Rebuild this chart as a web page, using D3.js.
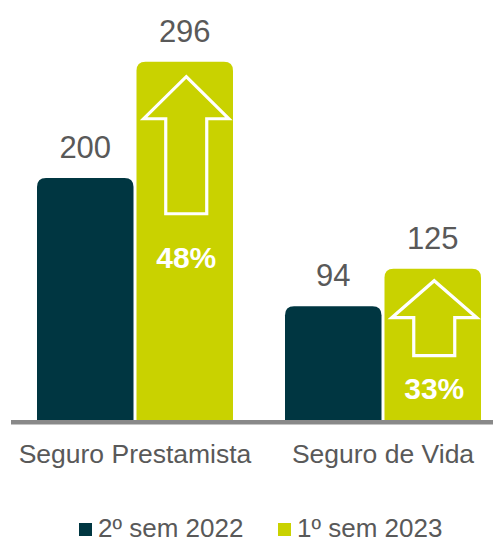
<!DOCTYPE html>
<html>
<head>
<meta charset="utf-8">
<script src="https://cdn.jsdelivr.net/npm/d3@7"></script>
<style>
  body { margin: 0; background: #fff; }
  text { font-family: Arial, "Liberation Sans", sans-serif; }
</style>
</head>
<body>
<div id="chart"></div>
<script>

// chart data
var categories = ["Seguro Prestamista", "Seguro de Vida"];
var seriesNames = ["2º sem 2022", "1º sem 2023"];
var values2022 = [200, 94];
var values2023 = [296, 125];
var growthLabels = ["48%", "33%"];

var colors = ["#003641", "#c9d200"];
var textGray = "#595959";

var width = 493, height = 541;
var baseY = 420;

var svg = d3.select("#chart").append("svg")
    .attr("width", width)
    .attr("height", height);

var x0 = d3.scaleBand()
    .domain(categories)
    .range([11, 507]);

var x1 = d3.scaleBand()
    .domain(seriesNames)
    .range([26, 222])
    .paddingInner(0.03);

var y = d3.scaleLinear()
    .domain([0, 347])
    .range([baseY, 0]);

var data = categories.map(function(c, i) {
  return {
    category: c,
    index: i,
    bars: [
      {series: seriesNames[0], value: values2022[i], color: colors[0]},
      {series: seriesNames[1], value: values2023[i], color: colors[1]}
    ]
  };
});

// bar with rounded top corners
function topRounded(x, yTop, w, h, r) {
  return "M" + x + "," + (yTop + h) +
    " L" + x + "," + (yTop + r) +
    " Q" + x + "," + yTop + " " + (x + r) + "," + yTop +
    " L" + (x + w - r) + "," + yTop +
    " Q" + (x + w) + "," + yTop + " " + (x + w) + "," + (yTop + r) +
    " L" + (x + w) + "," + (yTop + h) + " Z";
}

var groups = svg.selectAll(".group")
  .data(data)
  .enter().append("g")
    .attr("class", "group")
    .attr("transform", function(d) { return "translate(" + x0(d.category) + ",0)"; });

groups.selectAll(".bar")
  .data(function(d) { return d.bars; })
  .enter().append("path")
    .attr("class", "bar")
    .attr("d", function(d) {
      return topRounded(x1(d.series), y(d.value), x1.bandwidth(), baseY - y(d.value), 9);
    })
    .style("fill", function(d) { return d.color; });

groups.selectAll(".value")
  .data(function(d) { return d.bars; })
  .enter().append("text")
    .attr("class", "value")
    .attr("x", function(d) { return x1(d.series) + x1.bandwidth() / 2; })
    .attr("y", function(d) { return y(d.value) - 20; })
    .attr("text-anchor", "middle")
    .style("font-size", "31px")
    .style("fill", textGray)
    .text(function(d) { return d.value; });

// arrows inside the 2023 bars (hand placed like the slide)
var arrowLayout = [
  {tip: 15, headH: 42, shaftLen: 95, labelGap: 54},
  {tip: 12, headH: 37, shaftLen: 38, labelGap: 43}
];

groups.each(function(d) {
  var g = d3.select(this);
  var b = d.bars[1];
  var lay = arrowLayout[d.index];
  var cx = x1(b.series) + x1.bandwidth() / 2 + 1.5;
  var top = y(b.value) + lay.tip;
  var headBase = top + lay.headH;
  var bottom = headBase + lay.shaftLen;
  var hw = 42.5, sw = 20.5;

  var pts = [
    [cx, top], [cx + hw, headBase], [cx + sw, headBase], [cx + sw, bottom],
    [cx - sw, bottom], [cx - sw, headBase], [cx - hw, headBase]
  ];
  g.append("path")
    .attr("d", "M" + pts.map(function(p) { return p.join(","); }).join(" L") + " Z")
    .style("fill", "none")
    .style("stroke", "#fff")
    .style("stroke-width", 3.2)
    .style("stroke-linejoin", "miter");

  g.append("text")
    .attr("x", cx)
    .attr("y", bottom + lay.labelGap)
    .attr("text-anchor", "middle")
    .style("font-size", "30px")
    .style("font-weight", "bold")
    .style("fill", "#fff")
    .text(growthLabels[d.index]);
});

// baseline
svg.append("line")
  .attr("x1", 11).attr("x2", width)
  .attr("y1", baseY + 2.3).attr("y2", baseY + 2.3)
  .style("stroke", "#898989")
  .style("stroke-width", 4.6);

// category labels
svg.selectAll(".cat")
  .data(categories)
  .enter().append("text")
    .attr("class", "cat")
    .attr("x", function(d) { return x0(d) + x0.bandwidth() / 2; })
    .attr("y", 463)
    .attr("text-anchor", "middle")
    .style("font-size", "26.5px")
    .style("fill", textGray)
    .text(function(d) { return d; });

// legend
var legendX = [79, 278];
var legend = svg.selectAll(".legend")
  .data(seriesNames)
  .enter().append("g")
    .attr("class", "legend")
    .attr("transform", function(d, i) { return "translate(" + legendX[i] + ",0)"; });

legend.append("rect")
  .attr("x", 0).attr("y", 523)
  .attr("width", 13).attr("height", 13)
  .style("fill", function(d, i) { return colors[i]; });

legend.append("text")
  .attr("x", 19)
  .attr("y", 536.5)
  .style("font-size", "26px")
  .style("fill", textGray)
  .text(function(d) { return d; });

</script>
</body>
</html>
